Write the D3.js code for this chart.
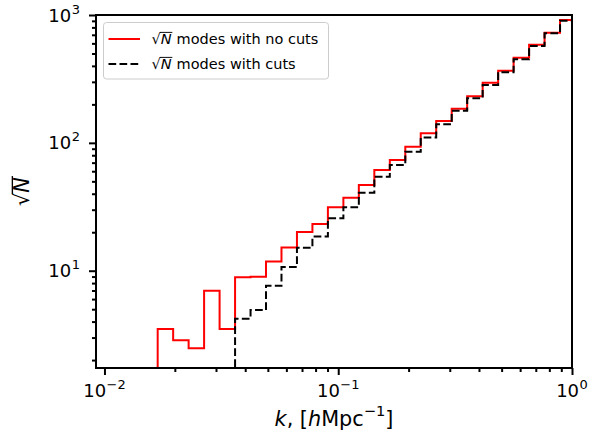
<!DOCTYPE html>
<html>
<head>
<meta charset="utf-8">
<title>sqrt N modes</title>
<script src="https://d3js.org/d3.v7.min.js"></script>
<style>
body { margin: 0; background: #fff; }
text { font-family: "DejaVu Sans", sans-serif; fill: #000; }
</style>
</head>
<body>
<div id="chart"></div>
<script>
// k bin edges (h/Mpc), one more than the number of bins
var kEdges = [0.01689, 0.01967, 0.02291, 0.02668, 0.03108, 0.03620, 0.04216, 0.04909,
  0.05718, 0.06659, 0.07755, 0.09032, 0.1052, 0.1225, 0.1427, 0.1662, 0.1936, 0.2254,
  0.2625, 0.3058, 0.3561, 0.4148, 0.4831, 0.5626, 0.6553, 0.7631, 0.8888, 1.035];
// sqrt(N) per bin
var modesNoCuts = [3.50, 2.86, 2.47, 6.98, 3.50, 8.88, 8.98, 11.8, 15.2, 20.1, 23.2, 31.3,
  37.2, 46.8, 61.4, 73.4, 93.3, 119, 148, 185, 232, 295, 366, 463, 586, 727, 914];
var modesCuts = [0, 0, 0, 0, 0, 4.21, 4.93, 7.63, 10.7, 15.1, 18.5, 25.7,
  31.3, 40.7, 54.3, 67.1, 85.3, 110, 140, 178, 223, 283, 356, 450, 573, 719, 902];

var xMajor = [0.01, 0.1, 1];
var xMajorExp = ["\u22122", "\u22121", "0"];
var yMajor = [10, 100, 1000];
var yMajorExp = ["1", "2", "3"];

var W = 595, H = 432;
var margin = {left: 96, top: 15, right: 23, bottom: 64};
var width = W - margin.left - margin.right;
var height = H - margin.top - margin.bottom;

var x = d3.scaleLog().domain([0.0092, 1.0]).range([0, width]);
var y = d3.scaleLog().domain([1.734, 1000]).range([height, 0]);

var svg = d3.select("#chart").append("svg")
    .attr("width", W).attr("height", H);
var g = svg.append("g").attr("transform", "translate(" + margin.left + "," + margin.top + ")");

g.append("clipPath").attr("id", "clip")
  .append("rect").attr("width", width).attr("height", height);

// minor ticks
var xMinor = [], yMinor = [];
[0.01, 0.1].forEach(function(d) { for (var m = 2; m < 10; m++) xMinor.push(d * m); });
[1, 10, 100].forEach(function(d) { for (var m = 2; m < 10; m++) if (d * m > y.domain()[0]) yMinor.push(d * m); });

function styleAxis(a) {
  a.select(".domain").remove();
  a.selectAll("line").attr("stroke", "#000").attr("stroke-width", 2);
}
g.append("g").attr("transform", "translate(0," + height + ")")
  .call(d3.axisBottom(x).tickValues(xMinor).tickSize(4).tickFormat("")).call(styleAxis);
g.append("g").attr("transform", "translate(0," + height + ")")
  .call(d3.axisBottom(x).tickValues(xMajor).tickSize(7).tickFormat("")).call(styleAxis);
g.append("g")
  .call(d3.axisLeft(y).tickValues(yMinor).tickSize(4).tickFormat("")).call(styleAxis);
g.append("g")
  .call(d3.axisLeft(y).tickValues(yMajor).tickSize(7).tickFormat("")).call(styleAxis);

// tick labels like 10^n
function powLabel(t, exp) {
  t.append("tspan").text("10");
  t.append("tspan").attr("font-size", 13).attr("dx", 0.5).attr("dy", -8).text(exp);
}
xMajor.forEach(function(d, i) {
  var t = g.append("text").attr("x", x(d)).attr("y", height + 28.5)
    .attr("text-anchor", "middle").attr("font-size", 18);
  powLabel(t, xMajorExp[i]);
});
yMajor.forEach(function(d, i) {
  var t = g.append("text").attr("x", -16).attr("y", y(d) + 6.5)
    .attr("text-anchor", "end").attr("font-size", 18);
  powLabel(t, yMajorExp[i]);
});

// step lines
function stepPoints(vals) {
  var pts = [], first = vals.findIndex(function(v) { return v > 0; });
  pts.push([x(kEdges[first]), height + 10]);
  for (var i = first; i < vals.length; i++) {
    pts.push([x(kEdges[i]), y(vals[i])]);
    pts.push([x(kEdges[i + 1]), y(vals[i])]);
  }
  return pts;
}
var line = d3.line();
var lines = g.append("g").attr("clip-path", "url(#clip)");
lines.append("path").attr("d", line(stepPoints(modesNoCuts)))
  .attr("fill", "none").attr("stroke", "#ff0000").attr("stroke-width", 2);
lines.append("path").attr("d", line(stepPoints(modesCuts)))
  .attr("fill", "none").attr("stroke", "#000").attr("stroke-width", 2)
  .attr("stroke-dasharray", "7.7,3.3");

// frame
g.append("rect").attr("width", width).attr("height", height)
  .attr("fill", "none").attr("stroke", "#000").attr("stroke-width", 2);

// sqrt(N) drawn as radical + italic N + bar
function sqrtN(sel, x0, y0, size) {
  var r = sel.append("text").attr("x", x0).attr("y", y0).attr("font-size", size).text("\u221A");
  var w = r.node().getComputedTextLength();
  var n = sel.append("text").attr("x", x0 + w).attr("y", y0).attr("font-size", size)
    .attr("font-style", "italic").text("N");
  var wn = n.node().getComputedTextLength();
  var by = y0 - size * 0.8;
  sel.append("line").attr("x1", x0 + w - size * 0.06).attr("x2", x0 + w + wn + size * 0.05)
    .attr("y1", by).attr("y2", by).attr("stroke", "#000").attr("stroke-width", size * 0.065);
  return x0 + w + wn;
}

// legend
var leg = svg.append("g");
leg.append("rect").attr("x", 103.5).attr("y", 22.5).attr("width", 225).attr("height", 56.5)
  .attr("rx", 3).attr("fill", "#fff").attr("fill-opacity", 0.8)
  .attr("stroke", "#cccccc").attr("stroke-width", 1);
var labels = ["modes with no cuts", "modes with cuts"];
var styles = [{c: "#ff0000", dash: null}, {c: "#000", dash: "7.7,3.3"}];
labels.forEach(function(lab, i) {
  var ly = 39 + i * 25;
  leg.append("line").attr("x1", 108.5).attr("x2", 140).attr("y1", ly).attr("y2", ly)
    .attr("stroke", styles[i].c).attr("stroke-width", 2).attr("stroke-dasharray", styles[i].dash);
  var ex = sqrtN(leg, 151.5, ly + 5, 14.5);
  leg.append("text").attr("x", ex + 5).attr("y", ly + 5).attr("font-size", 14.5).text(lab);
});

// axis labels
var xl = svg.append("text").attr("x", margin.left + width / 2).attr("y", 426)
  .attr("text-anchor", "middle").attr("font-size", 20.8);
xl.append("tspan").attr("font-style", "italic").text("k");
xl.append("tspan").text(", [");
xl.append("tspan").attr("font-style", "italic").text("h");
xl.append("tspan").text("Mpc");
xl.append("tspan").attr("font-size", 14.6).attr("dy", -9.8).text("\u22121");
xl.append("tspan").attr("dy", 9.8).text("]");

var yl = svg.append("g");
var yEnd = sqrtN(yl, 0, 0, 20.8);
yl.attr("transform", "translate(29," + (margin.top + height / 2) + ") rotate(-90) translate(" + (-yEnd / 2) + ",0)");
</script>
</body>
</html>
